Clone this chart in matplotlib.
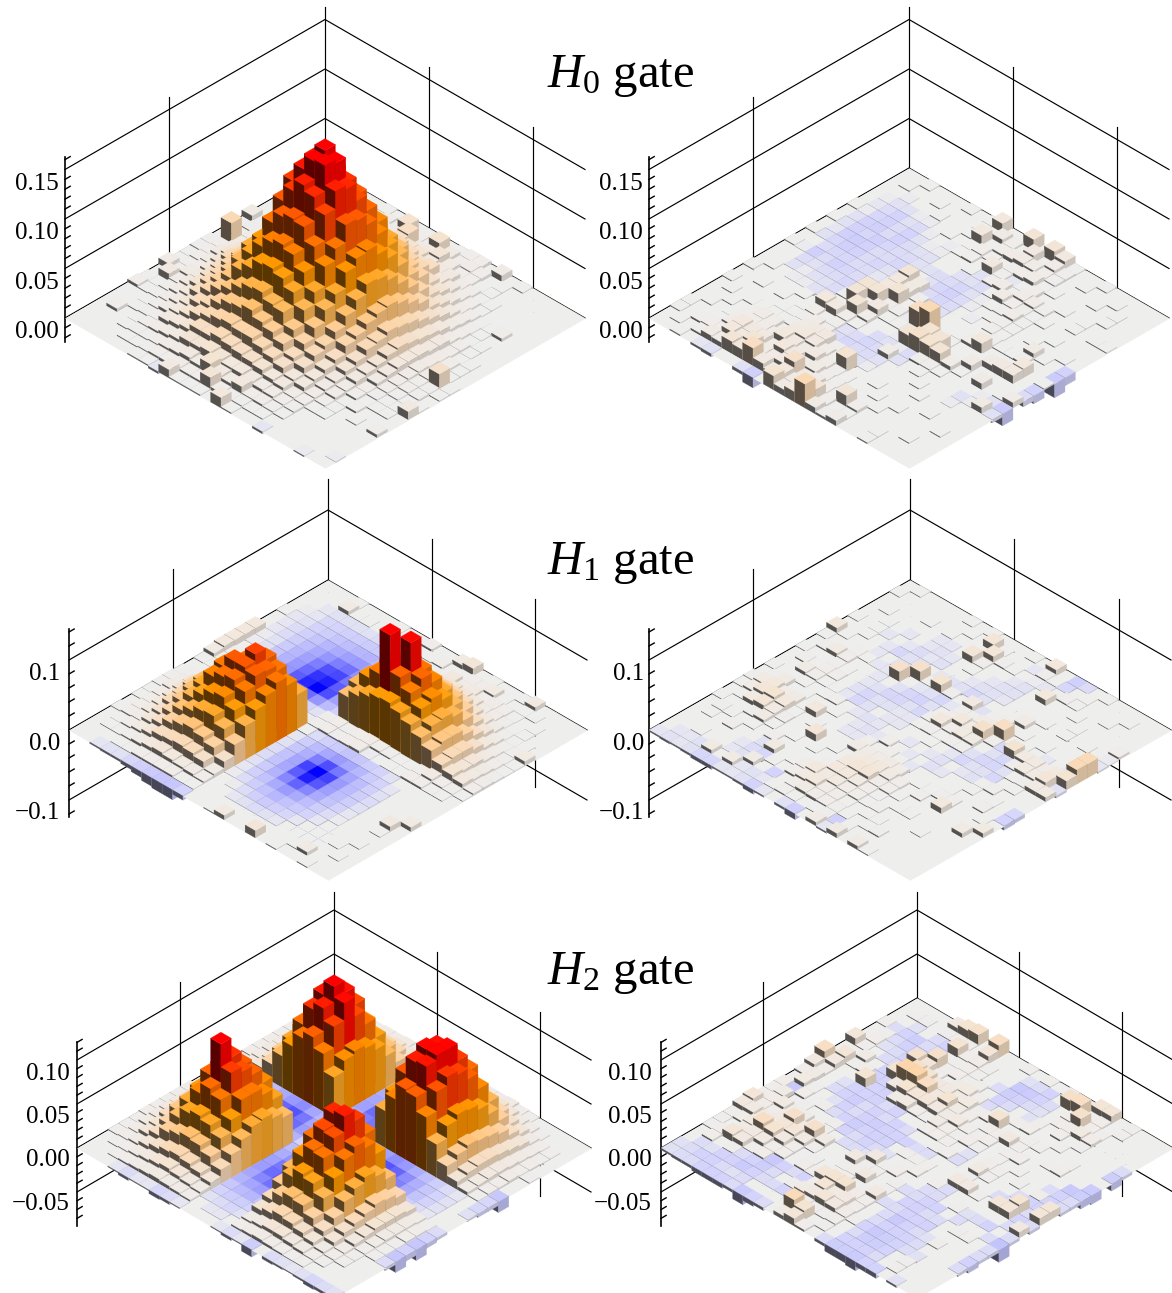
import numpy as np
import matplotlib
matplotlib.use('Agg')
import matplotlib.pyplot as plt
from matplotlib.colors import LinearSegmentedColormap, Normalize
from mpl_toolkits.mplot3d.art3d import Poly3DCollection
from mpl_toolkits.mplot3d import proj3d

plt.rcParams['font.family'] = ['Liberation Serif', 'DejaVu Serif']
plt.rcParams['mathtext.fontset'] = 'custom'
plt.rcParams['mathtext.rm'] = 'Liberation Serif'
plt.rcParams['mathtext.it'] = 'Liberation Serif:italic'

W, H = 1172, 1293
N = 25

# heights in units of 0.001, rows = j (towards left corner), columns = i (towards right corner)
h0_ideal = [
 [0,0,0,1,0,0,1,0,2,0,0,2,0,1,3,3,0,6,0,1,0,0,0,0,0],
 [0,0,0,0,0,2,1,4,2,15,3,2,15,6,3,4,3,0,1,0,0,0,0,0,0],
 [0,0,0,0,1,1,3,4,6,8,18,6,8,12,6,3,3,1,1,0,0,0,0,0,0],
 [0,0,0,1,2,3,5,8,10,12,16,14,13,10,8,8,4,3,1,1,0,0,0,0,0],
 [0,0,1,1,3,5,9,12,14,20,20,24,20,16,18,10,8,5,3,1,0,0,0,0,0],
 [0,0,1,3,6,8,10,18,22,28,34,32,32,26,24,16,12,8,4,3,1,1,3,0,0],
 [0,1,1,3,8,10,18,22,34,42,48,50,46,44,32,28,16,12,8,5,2,1,0,0,0],
 [6,1,3,5,8,14,22,34,46,56,64,72,68,60,50,36,26,16,12,6,3,1,1,0,0],
 [0,2,3,8,12,20,30,44,58,76,88,96,90,84,66,52,36,26,16,10,5,3,1,0,0],
 [0,1,5,8,14,26,36,52,76,96,112,118,112,102,84,66,46,32,20,12,8,3,1,1,0],
 [0,23,5,10,18,28,42,62,84,112,130,136,130,118,100,76,56,38,24,14,8,4,3,1,0],
 [2,3,6,12,20,32,44,64,92,122,148,163,156,136,110,86,62,42,26,16,10,5,3,1,0],
 [2,3,8,14,20,34,48,72,96,126,144,158,160,140,112,84,64,40,28,18,10,6,4,16,1],
 [1,3,6,12,22,30,44,60,84,112,128,140,134,122,94,76,54,36,24,16,10,5,3,2,1],
 [1,2,5,10,18,28,40,58,72,96,108,112,110,96,82,60,44,30,22,12,8,4,3,2,0],
 [6,2,6,8,16,24,34,50,64,78,88,92,88,76,62,50,34,26,16,10,6,3,2,1,1],
 [0,8,4,8,14,22,30,40,54,62,72,74,70,62,50,38,26,18,12,8,3,2,1,1,8],
 [1,1,3,6,10,18,26,34,40,48,54,56,50,48,36,28,22,14,8,5,3,1,1,1,0],
 [3,1,2,4,8,12,20,24,32,38,40,44,38,34,28,20,16,10,6,4,1,2,0,0,0],
 [0,0,1,3,6,10,14,20,24,28,30,28,28,24,20,16,10,8,4,2,1,0,1,0,3],
 [0,0,1,2,3,8,10,12,18,18,22,20,18,16,14,10,8,4,3,1,1,0,0,0,0],
 [0,3,0,1,3,4,6,8,12,12,14,12,10,10,8,6,5,3,2,0,0,0,0,0,0],
 [0,0,0,1,2,2,3,5,6,8,6,14,8,6,9,3,3,2,1,0,0,0,0,0,0],
 [0,0,0,0,1,1,2,3,3,4,3,3,12,3,2,2,1,1,0,0,0,0,0,0,-1],
 [0,0,0,0,0,0,1,1,-2,8,1,1,1,0,10,1,0,0,-2,0,0,0,-1,0,0],
]
h0_real = [
 [0,0,1,0,0,0,1,0,1,10,0,0,12,1,12,8,1,0,0,1,0,0,0,0,0],
 [0,1,0,0,1,0,0,0,1,1,6,3,1,8,1,5,2,0,1,0,0,1,0,0,0],
 [0,0,-1,0,0,1,0,0,1,10,1,3,4,6,5,3,2,0,0,0,1,0,1,0,0],
 [0,-1,-3,-3,-1,-1,0,1,0,1,3,1,0,2,3,5,1,1,0,0,0,0,1,0,0],
 [0,-2,-4,-7,-3,-4,-1,0,-1,1,2,0,8,2,-2,1,3,0,0,1,0,1,0,0,0],
 [1,-1,-6,-8,-4,-7,-3,-1,-1,0,0,1,-3,2,4,1,5,4,2,0,0,1,0,1,1],
 [0,-3,-8,-9,-5,-8,-5,-3,-3,0,0,-3,-3,-4,1,6,3,2,1,1,0,0,0,0,0],
 [1,-3,-8,-6,-9,-6,-4,-5,-3,-3,-5,-5,-6,-3,-1,1,2,4,1,0,0,1,0,0,0],
 [0,-2,-9,-11,-8,-5,-5,-6,-3,0,-3,-6,-8,-4,-1,0,1,2,1,0,1,0,0,1,0],
 [1,-3,-6,-9,-8,-5,-6,-3,-3,12,6,-4,-6,-5,0,-1,0,2,1,0,0,6,1,0,-8],
 [0,0,-5,-6,-6,-5,-5,-2,-2,10,7,2,-5,-3,0,0,0,1,2,1,1,2,0,0,-14],
 [1,-1,-9,-5,-8,-6,-5,0,0,10,12,1,-3,-1,0,0,1,3,10,0,0,0,9,0,1],
 [0,0,-5,-3,-5,-5,-6,0,12,12,2,2,-1,18,24,0,1,0,0,1,6,8,8,0,-8],
 [0,0,-3,-1,-3,-3,-5,1,12,3,8,1,1,1,1,14,12,0,0,6,0,0,0,0,-5],
 [0,1,0,-1,-1,-3,-3,0,0,12,3,0,0,-1,12,16,14,12,5,1,0,6,0,1,5],
 [1,0,0,0,0,1,0,10,8,3,1,0,-5,-3,-1,-5,2,2,1,0,0,0,-1,-3,-12],
 [0,0,1,0,1,0,1,3,1,2,-3,-5,-6,-5,5,-3,0,1,0,0,0,-3,-1,6,-3],
 [1,0,0,0,0,1,1,2,4,2,-5,-6,-5,-5,-3,0,0,0,1,0,0,-1,0,0,0],
 [0,1,0,1,1,1,1,2,6,8,8,2,-1,-3,-1,0,0,0,0,1,0,0,0,0,0],
 [0,0,1,0,2,5,4,1,8,10,8,5,3,14,0,0,1,0,0,0,0,1,0,0,0],
 [0,1,0,1,3,5,5,4,10,8,6,8,4,2,1,0,0,1,0,1,0,0,0,1,0],
 [1,0,0,1,5,10,8,8,4,10,8,4,6,3,2,1,0,0,1,0,0,0,0,0,0],
 [1,0,2,3,3,10,8,12,6,5,8,16,4,6,3,2,12,3,0,0,0,0,1,0,0],
 [0,1,0,2,6,5,12,10,18,8,4,10,6,2,12,3,1,1,0,0,1,0,0,0,0],
 [0,0,1,0,-2,-3,0,0,-3,-10,0,14,6,10,24,6,2,5,0,0,1,0,0,0,0],
]
h1_ideal = [
 [0,0,0,1,0,0,0,1,0,0,3,0,0,6,10,0,1,0,0,1,6,0,0,0,0],
 [0,0,0,6,1,1,0,0,1,0,0,1,3,0,1,3,3,6,1,0,1,1,0,0,0],
 [0,0,-2,-3,-3,-3,-3,-4,-4,-3,-2,-1,1,2,8,4,6,3,4,3,1,0,1,0,0],
 [0,-1,-2,-5,-6,-8,-10,-12,-12,-10,-6,-3,5,8,10,12,10,8,5,4,2,1,1,0,0],
 [1,-2,-3,-6,-10,-15,-20,-24,-26,-22,-12,-5,12,18,20,24,22,18,12,8,5,2,1,1,0],
 [0,-2,-4,-8,-15,-24,-32,-40,-42,-34,-20,-8,20,28,36,40,38,34,26,16,10,5,2,2,6],
 [0,-2,-4,-10,-20,-32,-44,-54,-58,-46,-28,-10,30,42,54,62,60,52,42,30,16,8,4,2,1],
 [8,-1,-3,-12,-24,-38,-54,-70,-74,-56,-32,-12,40,56,76,88,84,76,60,44,26,14,6,3,1],
 [8,-1,-3,-14,-26,-42,-60,-82,-88,-66,-36,-12,46,64,84,90,133,90,70,50,34,20,10,5,2],
 [8,0,-2,-12,-26,-44,-66,-86,-100,-72,-38,-12,46,66,80,144,92,78,64,48,34,20,10,6,3],
 [8,1,-2,-10,-18,-30,-44,-56,-60,-44,-22,-8,38,48,56,62,64,58,50,40,30,18,12,8,3],
 [6,1,0,-2,-4,-6,-8,-10,-8,-6,-3,2,3,2,3,4,3,2,1,1,3,6,3,2,1],
 [1,1,1,0,-1,-2,-2,-3,-2,-2,-1,2,3,2,3,4,-1,0,1,1,3,3,1,1,0],
 [0,1,4,10,18,32,42,56,58,52,50,1,-4,-8,-12,-16,-14,-10,-6,-3,0,0,0,0,0],
 [1,3,8,18,26,42,56,70,92,84,72,-2,-10,-22,-34,-42,-34,-24,-12,-6,-2,0,0,0,0],
 [2,4,12,22,32,52,72,88,108,92,84,-3,-14,-30,-54,-72,-56,-36,-20,-8,-3,0,0,0,0],
 [2,6,12,26,42,58,82,98,98,94,74,-4,-18,-36,-76,-100,-76,-42,-22,-10,-4,0,0,0,6],
 [1,4,10,22,38,54,76,84,88,80,62,-4,-16,-34,-66,-88,-68,-40,-20,-9,-3,0,0,7,0],
 [1,3,8,20,32,46,58,68,72,62,48,-3,-12,-28,-50,-64,-50,-32,-16,-7,-2,0,0,1,0],
 [0,3,6,14,24,36,44,52,54,44,30,-2,-8,-18,-32,-42,-32,-20,-10,-4,-1,0,0,0,0],
 [1,3,4,10,16,26,32,36,32,26,14,-1,-4,-10,-18,-24,-18,-12,-6,-2,0,0,0,1,0],
 [0,1,3,6,10,16,18,20,18,14,5,0,-1,-4,-8,-12,-8,-5,-2,0,0,0,1,0,0],
 [0,1,1,3,5,8,10,8,6,5,3,0,0,-2,-3,-4,-3,-2,0,0,0,0,0,1,0],
 [0,0,0,1,1,3,3,3,3,1,1,0,0,0,0,0,0,0,0,0,1,5,0,0,0],
 [0,0,-2,-3,-3,-5,-8,-12,-14,-14,-6,0,0,1,6,0,0,10,0,1,0,0,1,0,0],
]
h1_real = [
 [0,1,0,0,0,0,1,0,1,0,0,0,1,0,8,0,-8,-4,0,1,0,0,0,0,0],
 [1,0,0,0,0,0,0,1,0,10,1,0,0,-2,2,1,-5,0,1,0,0,0,1,0,0],
 [0,0,0,0,1,0,1,0,0,0,10,2,1,0,-1,-2,0,2,1,0,0,1,0,0,0],
 [0,1,0,0,0,0,-2,-2,0,10,2,0,0,-2,-3,0,8,0,0,1,0,0,0,0,0],
 [0,0,1,0,-2,0,-2,-3,-2,0,1,0,-2,-3,-3,0,0,0,0,0,1,0,0,0,3],
 [1,0,1,-2,0,-2,-4,-2,-3,0,0,-2,-3,-3,-2,0,0,0,1,0,1,0,1,0,-1],
 [0,0,1,0,-2,-5,-3,-3,0,-2,-3,-3,-5,-3,0,0,0,5,0,0,0,0,0,0,-2],
 [8,1,0,0,-2,0,-3,-2,14,1,12,2,0,7,-3,2,3,0,1,0,1,0,0,2,20],
 [1,0,0,2,1,-2,-2,14,0,-2,-3,-5,-2,2,2,5,6,16,0,1,0,-2,0,-2,20],
 [0,2,6,3,0,0,-2,0,-3,-5,-6,-3,0,3,8,5,14,2,-5,12,6,6,4,8,12],
 [1,0,0,2,1,0,-2,-3,-5,-5,-3,-5,2,8,3,6,5,0,-3,-5,2,6,5,10,-3],
 [0,2,1,3,2,0,-3,-5,-3,-3,-2,-2,1,2,1,2,2,-3,-5,-5,-3,1,2,6,6],
 [0,0,5,3,1,1,-2,-5,-3,0,-2,-2,0,0,1,0,-2,-5,-3,-3,-5,0,1,0,0],
 [1,0,0,1,0,1,2,0,-2,-3,-2,0,0,-2,0,-2,-3,0,-2,-3,1,2,0,0,0],
 [0,2,5,0,1,0,0,1,0,-2,-3,-2,3,0,-2,0,-3,-2,0,0,1,0,1,0,-5],
 [2,6,8,4,5,1,8,0,0,-2,-2,2,0,3,1,-2,0,0,0,1,0,0,2,0,-6],
 [1,4,10,12,8,1,0,1,0,0,0,5,4,4,5,4,0,1,1,2,2,0,0,1,0],
 [0,1,6,9,6,2,0,0,10,0,1,0,6,8,8,6,3,0,2,0,8,0,0,0,6],
 [1,0,0,2,5,1,0,1,0,1,0,0,8,10,10,4,3,1,0,0,0,0,0,6,0],
 [0,2,1,0,1,0,2,0,0,0,1,3,8,8,6,3,1,0,1,1,0,0,0,0,0],
 [0,1,0,2,0,0,-3,6,0,1,4,8,6,6,4,3,1,2,0,0,0,1,0,0,0],
 [0,0,0,0,0,-2,-4,-5,1,0,3,6,8,4,3,1,0,1,1,0,0,0,0,0,0],
 [0,0,1,0,0,-2,-3,5,0,-6,0,3,5,4,3,2,1,0,1,2,0,0,0,0,0],
 [0,-2,-2,-3,5,0,5,-2,-3,-2,1,2,1,0,1,2,-8,1,0,0,0,0,0,0,0],
 [-2,-3,-2,-3,-5,-5,-2,-2,-3,-6,-2,0,-3,-8,0,5,-2,6,0,5,1,0,0,0,0],
]
h2_ideal = [
 [0,0,0,1,2,3,3,4,3,2,1,0,0,0,1,3,3,4,2,1,0,0,0,0,0],
 [0,1,2,3,5,6,8,10,8,6,-2,-3,-4,-3,5,6,10,10,8,5,3,1,0,0,0],
 [1,2,4,6,10,14,18,20,18,12,-6,-8,-8,-6,10,16,20,22,18,12,8,4,2,1,0],
 [1,3,5,10,18,26,34,36,30,22,-12,-18,-18,-12,22,34,44,46,38,24,14,8,3,1,0],
 [2,4,8,16,30,42,54,60,50,36,-20,-28,-28,-20,36,54,70,74,60,38,22,10,4,2,0],
 [2,5,10,24,42,62,78,88,72,50,-26,-38,-40,-26,48,72,96,92,78,50,26,12,5,2,1],
 [2,6,12,28,50,76,96,108,88,58,-30,-46,-48,-30,54,86,108,112,90,56,28,14,6,3,0],
 [2,6,12,28,52,80,106,122,110,62,-32,-50,-52,-32,58,90,112,112,94,58,30,14,6,2,0],
 [2,5,10,26,46,72,96,104,90,58,-28,-44,-46,-28,54,84,104,106,84,52,26,12,5,2,-12],
 [1,4,9,20,36,54,70,78,66,46,-20,-32,-34,-20,42,62,80,78,62,38,20,9,4,1,-4],
 [0,-1,-4,-10,-18,-28,-36,-40,-30,-20,-6,-6,-6,-6,-20,-32,-40,-36,-26,-16,-8,-3,-1,0,-4],
 [0,-2,-6,-15,-28,-42,-52,-58,-46,-30,-6,4,4,-6,-30,-46,-58,-52,-40,-25,-12,-5,-2,0,-2],
 [0,-2,-6,-16,-30,-45,-56,-60,-50,-34,-6,5,8,-8,-34,-50,-60,-55,-44,-28,-14,-6,-2,0,0],
 [0,-1,-4,-10,-20,-30,-40,-42,-32,-22,-5,-5,-6,-6,-22,-32,-42,-40,-30,-18,-8,-3,-1,0,0],
 [2,5,12,24,38,54,62,60,48,34,-18,-28,-30,-18,30,52,66,70,54,32,18,8,3,1,-3],
 [2,6,14,30,48,68,80,76,60,40,-26,-38,-42,-26,42,66,88,92,68,42,22,10,4,2,-5],
 [2,7,16,32,52,78,96,86,68,46,-32,-46,-50,-32,48,76,100,104,76,48,24,10,4,2,-12],
 [2,7,16,32,52,76,118,92,68,44,-34,-50,-55,-34,46,72,88,86,68,42,20,10,4,1,-6],
 [2,6,14,28,44,62,74,68,52,36,-30,-42,-48,-30,36,58,72,70,54,34,16,8,3,1,-12],
 [1,5,10,20,34,46,50,46,38,26,-22,-30,-34,-22,26,42,52,48,38,22,12,6,2,1,-3],
 [1,3,8,14,24,28,32,30,24,16,-12,-18,-20,-12,16,26,32,30,22,14,8,3,1,0,0],
 [1,2,4,8,12,16,18,16,12,8,-5,-8,-8,-5,10,14,18,16,12,8,4,2,1,0,0],
 [0,1,2,4,6,8,10,8,6,4,-2,-3,-4,-2,4,6,8,8,6,4,2,1,0,0,0],
 [0,0,1,2,3,4,5,4,3,2,0,-1,-1,0,2,3,4,3,2,1,1,0,0,0,0],
 [0,0,0,-1,-3,-1,-1,-4,-3,-1,0,0,0,-1,-3,-1,-8,0,-3,-2,-1,-2,-4,-3,-2],
]
h2_real = [
 [0,0,0,0,6,10,12,0,14,0,0,1,0,1,0,1,0,0,8,8,0,1,0,0,0],
 [0,1,1,0,1,1,1,0,8,0,0,0,-2,-3,-5,0,12,14,1,2,0,1,0,0,0],
 [0,0,-2,0,-3,-5,10,2,3,1,0,0,-11,-9,-5,-3,0,2,12,2,1,0,0,0,0],
 [1,-3,-5,-8,-3,-3,0,1,2,1,0,-3,-8,-6,-3,-2,0,1,2,5,3,0,0,0,0],
 [0,1,-3,-6,-5,-5,12,1,2,1,2,0,-5,-3,0,-2,1,0,2,0,1,0,0,0,-3],
 [0,2,-2,-3,-5,12,8,2,0,4,5,2,-3,0,0,1,2,0,0,1,0,0,0,0,-8],
 [8,1,0,-3,-3,-2,12,10,6,6,4,5,1,2,10,0,0,1,1,0,0,1,0,0,0],
 [0,0,4,0,-5,10,20,20,14,6,10,4,2,0,2,2,6,1,0,0,1,2,0,0,-10],
 [0,8,1,2,-6,-5,6,10,8,8,6,4,5,2,1,2,0,1,2,0,0,0,0,-11,-8],
 [14,6,0,0,10,-5,-6,4,6,2,1,4,2,1,2,1,0,1,0,1,0,0,-3,-5,-3],
 [6,2,0,-2,-5,-5,-6,-3,-5,0,0,2,2,1,0,-2,0,2,1,0,1,0,1,-5,-3],
 [2,4,0,-3,-5,-8,-3,-5,-3,-5,-3,0,0,1,2,-3,0,5,1,0,0,-3,-5,-6,8],
 [0,5,1,0,-2,-5,-3,-6,-8,-6,-5,-5,-3,-3,0,0,0,1,0,0,-3,-3,10,-3,8],
 [2,-11,2,0,1,-3,-5,-8,-5,-6,-6,0,1,1,1,0,0,6,6,1,0,8,8,-5,-3],
 [2,4,0,1,0,0,1,-5,-3,-5,-3,-2,0,1,2,0,1,-3,0,0,0,0,0,-3,6],
 [2,3,5,2,3,0,1,0,-3,-3,-2,6,1,2,0,0,-3,-3,0,1,-2,-3,-5,0,-3],
 [8,3,2,4,12,4,12,4,0,0,6,1,1,0,1,-3,-3,-5,-5,0,-3,0,0,-3,-14],
 [6,6,3,6,8,8,5,1,0,0,1,2,6,0,1,0,-5,-6,-3,-3,0,1,1,0,-3],
 [1,2,5,14,10,6,2,0,1,0,1,2,0,1,6,-3,-3,-5,-5,-6,0,0,0,0,-3],
 [1,0,4,6,5,2,2,0,2,1,8,10,10,3,2,0,-3,-11,-5,-3,-2,1,0,0,-6],
 [1,2,8,6,1,2,-11,-5,-3,-5,2,8,5,6,2,0,-3,-5,-6,-5,-3,0,0,0,-3],
 [0,2,0,1,-3,-5,-8,-3,0,1,4,6,8,6,3,1,-5,-11,-8,-5,-3,-2,0,0,0],
 [0,-3,-2,-5,-6,-9,-5,-3,-3,-5,1,2,1,1,2,0,-3,-8,-8,-5,0,1,0,0,0],
 [-2,-3,-5,-5,-3,-2,-3,0,0,0,0,16,10,0,1,0,-5,-5,-5,-3,0,1,0,0,0],
 [-2,-3,-3,-5,-5,-5,-3,-10,-5,-3,0,4,8,2,0,-3,-8,-8,-10,-5,-5,0,-2,0,0],
]

panel_data = [h0_ideal, h0_real, h1_ideal, h1_real, h2_ideal, h2_real]
back_x = [325, 909, 328, 910, 334, 917]
back_y = [168, 168, 580, 580, 998, 998]
half_w = [260, 260, 259, 261, 257, 256]
z_px = [990, 990, 700, 700, 880, 880]
z_lo = [-0.024, -0.024, -0.124, -0.124, -0.089, -0.089]
z_hi = [0.163, 0.163, 0.144, 0.144, 0.12, 0.12]
v_max = [0.163, 0.163, 0.144, 0.144, 0.12, 0.12]
major_ticks = [[0, 0.05, 0.10, 0.15]] * 2 + [[-0.1, 0, 0.1]] * 2 + [[-0.05, 0, 0.05, 0.10]] * 2
minor_step = [0.01, 0.01, 0.02, 0.02, 0.01, 0.01]
tick_text = [['0.00', '0.05', '0.10', '0.15']] * 2 + [['\u22120.1', '0.0', '0.1']] * 2 + [['\u22120.05', '0.00', '0.05', '0.10']] * 2
tick_px = [[332, 283, 233, 184]] * 2 + [[813, 744, 674]] * 2 + [[1204, 1160, 1117, 1074]] * 2
label_x = [59, 643, 60, 644, 70, 652]

titles = ['$H_0$ gate', '$H_1$ gate', '$H_2$ gate']
title_y = [87, 574, 984]

cmap = LinearSegmentedColormap.from_list('wig', [
    (0.0, '#0000ff'), (0.15, '#0000ff'), (0.35, '#9a9aff'), (0.48, '#d4d4fb'), (0.5, '#eeeeee'),
    (0.525, '#f1e9e1'), (0.6, '#ffd09c'), (0.725, '#ff9a00'), (0.85, '#ff5500'), (0.975, '#ff0000'), (1.0, '#ff0000')])


def cell_faces(j, i, v, col):
    top = max(v, 0)
    bot = min(v, 0)
    c = np.array(col[:3])
    polys = [[(j, i, top), (j + 1, i, top), (j + 1, i + 1, top), (j, i + 1, top)]]
    cols = [tuple(c)]
    if top > bot:
        polys.append([(j + 1, i, bot), (j + 1, i + 1, bot), (j + 1, i + 1, top), (j + 1, i, top)])
        cols.append(tuple(c * 0.35))
        polys.append([(j, i + 1, bot), (j + 1, i + 1, bot), (j + 1, i + 1, top), (j, i + 1, top)])
        cols.append(tuple(c * 0.84))
    return polys, cols


def draw_panel(k):
    vals = np.array(panel_data[k], dtype=float) / 1000
    zlo, zhi = z_lo[k], z_hi[k]
    S = 1000
    ax = fig.add_axes([0, 0, S / W, S / H], projection='3d', proj_type='ortho', computed_zorder=False)
    ax.set_axis_off()
    ax.patch.set_visible(False)
    ax.set_xlim(0, N)
    ax.set_ylim(0, N)
    ax.set_zlim(zlo, zhi)
    elev = np.degrees(np.arcsin(150 / half_w[k]))
    ax.view_init(elev=elev, azim=45)
    cell = half_w[k] / N * np.sqrt(2)
    aspect = (N * cell, N * cell, (zhi - zlo) * z_px[k] / np.cos(np.radians(elev)))
    ax.set_box_aspect(aspect, zoom=1)

    # fit the floor to its place in the figure
    def corner_px(x, y):
        px, py, _ = proj3d.proj_transform(x, y, 0, ax.get_proj())
        return ax.transData.transform((px, py))
    width = corner_px(0, N)[0] - corner_px(N, 0)[0]
    ax.set_box_aspect(aspect, zoom=2 * half_w[k] / width)
    bx, by = corner_px(0, 0)
    ax.set_position([(back_x[k] - bx) / W, ((H - back_y[k]) - by) / H, S / W, S / H])

    # walls
    lk = dict(color='black', lw=0.85, zorder=0.5)
    for z in major_ticks[k]:
        ax.plot([N, 0, 0], [0, 0, N], [z, z, z], **lk)
    for x, y in [(0, 0), (15, 0), (0, 10), (0, 20)]:
        ax.plot([x, x], [y, y], [zlo, zhi], **lk)
    ax.plot([N, N], [0, 0], [zlo, zhi], color='black', lw=1.2, zorder=0.6)
    step = minor_step[k]
    for n in range(int(np.ceil(zlo / step)), int(np.floor(zhi / step)) + 1):
        z = n * step
        major = any(abs(z - m) < 1e-6 for m in major_ticks[k])
        if not major:
            ax.plot([N, N - 0.5], [0, 0], [z, z], color='black', lw=1.0, zorder=0.6)

    # bars, back to front
    norm = Normalize(-v_max[k], v_max[k])
    order = sorted(((j, i) for j in range(N) for i in range(N)), key=lambda t: t[0] + t[1])
    for n, (j, i) in enumerate(order):
        v = vals[j, i]
        polys, cols = cell_faces(j, i, v, cmap(norm(v)))
        pc = Poly3DCollection(polys, facecolors=cols, edgecolors=cols, linewidths=0.2, zorder=1 + n)
        ax.add_collection3d(pc, autolim=False)

    for txt, y in zip(tick_text[k], tick_px[k]):
        fig.text(label_x[k] / W, 1 - y / H, txt, ha='right', va='center', fontsize=18)


fig = plt.figure(figsize=(W / 100, H / 100), dpi=100)
for k in range(6):
    draw_panel(k)
for t, y in zip(titles, title_y):
    fig.text(547 / W, 1 - y / H, t, fontsize=35, va='baseline', ha='left')

fig.savefig('out.png', dpi=100)
